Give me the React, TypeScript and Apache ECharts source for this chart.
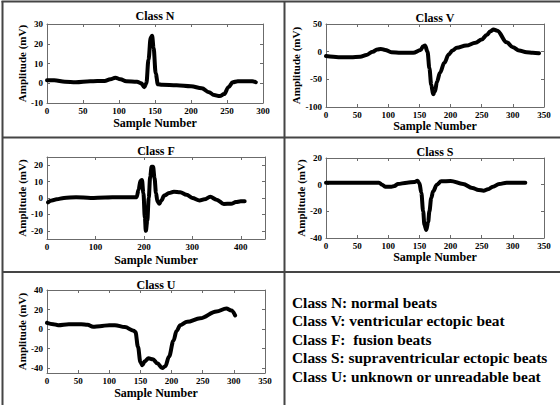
import React, { useEffect, useRef } from "react";
import * as echarts from "echarts";

// ---- data ----
const nX = [0, 10, 25, 40, 60, 80, 88, 95, 102, 110, 125, 131, 135, 138, 141, 144, 146, 148, 151, 154, 160, 180, 200, 215, 225, 232, 240, 246, 252, 258, 265, 285, 290];
const nY = [1.5, 1.5, 0.8, 0.5, 1, 1.2, 2, 2.8, 2, 1, 0.8, 0, -2, 0, 12, 23, 24, 18, 5, -0.5, -0.8, -1, -1.5, -2.5, -4.5, -6, -6.5, -5.5, -2, 0.5, 1, 1, 0.5];

const vX = [0, 20, 40, 55, 65, 75, 82, 88, 95, 105, 120, 140, 152, 156, 159, 163, 166, 169, 172, 175, 178, 183, 190, 197, 203, 210, 225, 240, 250, 258, 264, 269, 275, 290, 300, 310, 322, 332, 342];
const vY = [-8, -10, -10, -9, -6, 0, 4, 5, 3, -1, -2, -2, 3, 10, 11, 0, -30, -60, -77, -72, -55, -38, -20, -5, 2, 7, 11, 16, 22, 30, 37, 40, 38, 17, 8, 2, -1, -2, -3];

const fX = [2, 10, 20, 35, 60, 90, 120, 150, 185, 189, 193, 196, 199, 202, 204, 207, 210, 213, 216, 219, 222, 225, 228, 232, 236, 242, 252, 262, 275, 288, 300, 315, 325, 337, 350, 365, 380, 390, 400, 408];
const fY = [-2.6, -1.5, -0.8, 0, 0.5, 0, 0.3, 0.5, 0.5, 5, 10.5, 11, 3, -12, -20, -14, 0, 13, 19, 19, 12, 3, -2, -3.5, -1.5, 1.5, 3, 3.8, 3.5, 2, 0, -1.5, -0.8, 0.7, -1, -3.6, -3.5, -2.5, -2, -2];

const sX = [0, 30, 60, 85, 90, 95, 105, 110, 115, 130, 142, 147, 150, 153, 156, 158, 161, 164, 166, 169, 172, 178, 185, 200, 220, 235, 245, 253, 260, 268, 278, 290, 305, 320];
const sY = [1.5, 1.5, 1.5, 1.5, 0, -1.5, -1.5, -1, 0.5, 1.5, 2, 3, 1, -6, -20, -30, -34, -28, -20, -10, -5, 0, 2.5, 2.8, 0.5, -2.5, -4, -4.5, -3.5, -1.5, 0.5, 1.5, 1.5, 1.5];

const uX = [0, 10, 18, 35, 55, 65, 74, 85, 100, 109, 125, 139, 142, 146, 150, 153, 157, 163, 170, 177, 185, 190, 196, 203, 208, 214, 225, 246, 272, 288, 296, 302];
const uY = [6.4, 5, 4, 5, 5, 4.5, 2.4, 3, 4, 4, 2, -1.7, -3, -18, -34, -37, -33, -30, -31, -35, -40, -38, -28, -12, -2, 4, 7.5, 11, 18, 21, 19, 14];

const titles = ["Class N", "Class V", "Class F", "Class S", "Class U"];
const xTicksN = [0, 50, 100, 150, 200, 250, 300];
const xTicksV = [0, 50, 100, 150, 200, 250, 300, 350];
const xTicksF = [0, 100, 200, 300, 400];
const xTicksS = [0, 50, 100, 150, 200, 250, 300, 350];
const xTicksU = [0, 50, 100, 150, 200, 250, 300, 350];
const yTicksN = [-10, 0, 10, 20, 30];
const yTicksV = [-100, -50, 0, 50];
const yTicksF = [-20, -10, 0, 10, 20];
const yTicksS = [-40, -20, 0, 20];
const yTicksU = [-40, -20, 0, 20, 40];
const legendLines = [
  "Class N: normal beats",
  "Class V: ventricular ectopic beat",
  "Class F:  fusion beats",
  "Class S: supraventricular ectopic beats",
  "Class U: unknown or unreadable beat",
];

const FONT = '"Liberation Serif", "Times New Roman", serif';

export default function App() {
  const ref = useRef<HTMLDivElement>(null);
  useEffect(() => {
    if (!ref.current) return;
    const chart = echarts.init(ref.current, undefined, { renderer: "svg" });

    const panels = [
      { xs: nX, ys: nY, xt: xTicksN, yt: yTicksN, xMin: 0, xMax: 300, yMin: -10, yMax: 30, left: 47, top: 24, width: 216, height: 79, xGap: 14, yGap: 18, titleY: 16 },
      { xs: vX, ys: vY, xt: xTicksV, yt: yTicksV, xMin: 0, xMax: 350, yMin: -100, yMax: 50, left: 326, top: 24, width: 218, height: 83, xGap: 10, yGap: 20, titleY: 18 },
      { xs: fX, ys: fY, xt: xTicksF, yt: yTicksF, xMin: 0, xMax: 450, yMin: -25, yMax: 25, left: 47, top: 157, width: 218, height: 82, xGap: 15, yGap: 18, titleY: 151 },
      { xs: sX, ys: sY, xt: xTicksS, yt: yTicksS, xMin: 0, xMax: 350, yMin: -40, yMax: 20, left: 326, top: 158, width: 218, height: 80, xGap: 11, yGap: 20, titleY: 152 },
      { xs: uX, ys: uY, xt: xTicksU, yt: yTicksU, xMin: 0, xMax: 350, yMin: -45, yMax: 40, left: 47, top: 290, width: 218, height: 83, xGap: 14, yGap: 18, titleY: 285 },
    ];

    const boxColor = "#6b6b6b";
    const labelStyle = { color: "#000", fontFamily: FONT, fontWeight: "bold" as const, fontSize: 9 };
    const nameStyle = { color: "#000", fontFamily: FONT, fontWeight: "bold" as const, fontSize: 12 };

    const grid: any[] = [];
    const xAxis: any[] = [];
    const yAxis: any[] = [];
    const series: any[] = [];
    const graphic: any[] = [];

    panels.forEach((p) => {
      grid.push({ left: p.left, top: p.top, width: p.width, height: p.height, containLabel: false });
    });
    panels.forEach((p, i) => {
      xAxis.push({
        type: "value", gridIndex: i, min: p.xMin, max: p.xMax, position: "bottom",
        axisLine: { show: true, onZero: false, lineStyle: { color: boxColor, width: 1 } },
        axisTick: { show: true, inside: true, length: 3, customValues: p.xt, lineStyle: { color: boxColor } },
        axisLabel: { ...labelStyle, margin: 3, customValues: p.xt },
        splitLine: { show: false },
        name: "Sample Number", nameLocation: "middle", nameGap: p.xGap, nameTextStyle: nameStyle,
      });
    });
    panels.forEach((p, i) => {
      xAxis.push({
        type: "value", gridIndex: i, min: p.xMin, max: p.xMax, position: "top",
        axisLine: { show: true, onZero: false, lineStyle: { color: boxColor, width: 1 } },
        axisTick: { show: true, inside: true, length: 3, customValues: p.xt, lineStyle: { color: boxColor } },
        axisLabel: { show: false },
        splitLine: { show: false },
      });
    });
    panels.forEach((p, i) => {
      yAxis.push({
        type: "value", gridIndex: i, min: p.yMin, max: p.yMax, position: "left",
        axisLine: { show: true, onZero: false, lineStyle: { color: boxColor, width: 1 } },
        axisTick: { show: true, inside: true, length: 3, customValues: p.yt, lineStyle: { color: boxColor } },
        axisLabel: { ...labelStyle, margin: 4, customValues: p.yt },
        splitLine: { show: false },
        name: "Amplitude (mV)", nameLocation: "middle", nameGap: p.yGap, nameRotate: 90, nameTextStyle: { ...nameStyle, fontSize: 11 },
      });
    });
    panels.forEach((p, i) => {
      yAxis.push({
        type: "value", gridIndex: i, min: p.yMin, max: p.yMax, position: "right",
        axisLine: { show: true, onZero: false, lineStyle: { color: boxColor, width: 1 } },
        axisTick: { show: true, inside: true, length: 3, customValues: p.yt, lineStyle: { color: boxColor } },
        axisLabel: { show: false },
        splitLine: { show: false },
      });
    });
    panels.forEach((p, i) => {
      series.push({
        type: "line", xAxisIndex: i, yAxisIndex: i,
        data: p.xs.map((x, k) => [x, p.ys[k]]),
        showSymbol: false, smooth: 0.35, smoothMonotone: "x",
        lineStyle: { color: "#000", width: 4, cap: "round", join: "round" },
        silent: true,
      });
      graphic.push({
        type: "text", x: p.left + p.width / 2, y: p.titleY,
        style: { text: titles[i], fill: "#000", font: `bold 12px ${FONT}`, align: "center", verticalAlign: "middle" },
      });
    });

    const frame = { stroke: "#454545", lineWidth: 2 };
    graphic.push(
      { type: "line", shape: { x1: 1.5, y1: 1.5, x2: 560, y2: 1.5 }, style: frame },
      { type: "line", shape: { x1: 2.5, y1: 1, x2: 2.5, y2: 405 }, style: frame },
      { type: "line", shape: { x1: 284.5, y1: 1, x2: 284.5, y2: 405 }, style: frame },
      { type: "line", shape: { x1: 2, y1: 137.5, x2: 560, y2: 137.5 }, style: frame },
      { type: "line", shape: { x1: 2, y1: 272, x2: 560, y2: 272 }, style: frame },
    );

    legendLines.forEach((t, k) => {
      graphic.push({
        type: "text", x: 292, y: 302 + k * 18.6,
        style: { text: t, fill: "#000", font: `bold 15.4px ${FONT}`, align: "left", verticalAlign: "middle" },
      });
    });

    chart.setOption({
      animation: false,
      backgroundColor: "#fff",
      grid, xAxis, yAxis, series, graphic,
    });
    return () => chart.dispose();
  }, []);

  return <div ref={ref} style={{ position: "fixed", left: 0, top: 0, width: 560, height: 405 }} />;
}
